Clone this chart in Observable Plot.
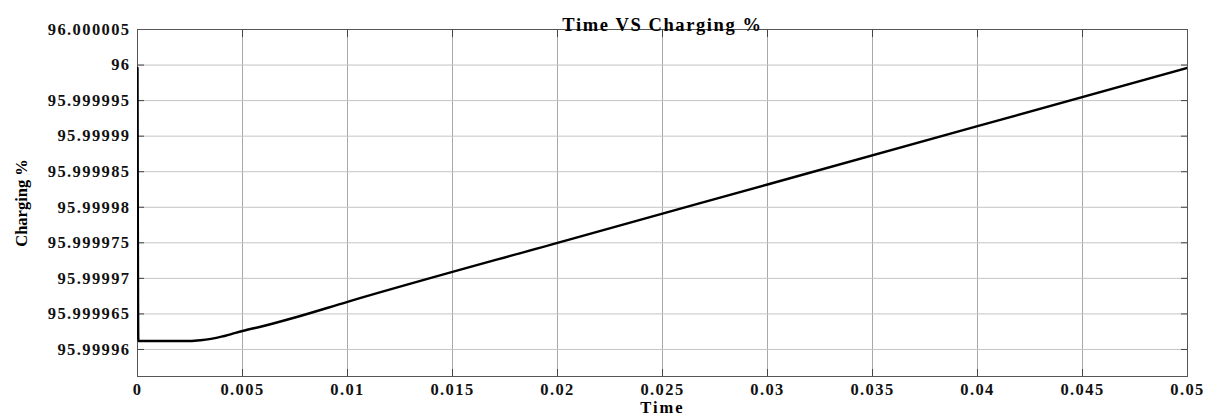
<!DOCTYPE html>
<html>
<head>
<meta charset="utf-8">
<script src="https://cdn.jsdelivr.net/npm/d3@7"></script>
<script src="https://cdn.jsdelivr.net/npm/@observablehq/plot@0.6"></script>
<style>
  html, body { margin: 0; padding: 0; background: #fff; }
</style>
</head>
<body>
<div id="chart"></div>
<script>
const titleText = "Time VS Charging %";
const xLabel = "Time";
const yLabel = "Charging %";

const times = [0, 0.00004, 0.0025, 0.003, 0.0035, 0.004, 0.0045, 0.005, 0.006, 0.0075, 0.01, 0.02, 0.03, 0.04, 0.05];
const charging = [95.9999996, 95.9999612, 95.9999612, 95.9999613, 95.9999615, 95.9999618, 95.9999622, 95.9999626, 95.9999633, 95.9999645, 95.9999667, 95.999975, 95.9999832, 95.9999914, 95.9999996];

const xTickLabels = ["0", "0.005", "0.01", "0.015", "0.02", "0.025", "0.03", "0.035", "0.04", "0.045", "0.05"];
const yTickLabels = ["95.99996", "95.999965", "95.99997", "95.999975", "95.99998", "95.999985", "95.99999", "95.999995", "96", "96.000005"];

const xTicks = xTickLabels.map(Number);
const yTicks = yTickLabels.map(Number);
const data = times.map((t, i) => ({t, v: charging[i]}));

const serif = "'Liberation Serif', 'Times New Roman', Times, serif";

const chart = Plot.plot({
  width: 1212,
  height: 418,
  marginLeft: 137,
  marginRight: 25,
  marginTop: 29,
  marginBottom: 42,
  style: {fontFamily: serif, fontSize: "16px", fontWeight: "bold", color: "#111", background: "#fff"},
  x: {domain: [0, 0.05]},
  y: {domain: [95.9999562, 96.000005]},
  marks: [
    Plot.gridX(xTicks, {stroke: "#a8a8a8", strokeOpacity: 1}),
    Plot.gridY(yTicks, {stroke: "#c4c4c4", strokeOpacity: 1}),
    Plot.axisX(xTicks, {anchor: "bottom", tickSize: 0, tickPadding: 7, tickFormat: (d, i) => xTickLabels[i], label: null, fill: "#111"}),
    Plot.axisY(yTicks, {anchor: "left", tickSize: 0, tickPadding: 7, tickFormat: (d, i) => yTickLabels[i], label: null, fill: "#111"}),
    Plot.axisX(xTicks, {anchor: "bottom", tickSize: -7, text: null, label: null, stroke: "#444"}),
    Plot.axisX(xTicks, {anchor: "top", tickSize: -7, text: null, label: null, stroke: "#444"}),
    Plot.axisY(yTicks, {anchor: "left", tickSize: -7, text: null, label: null, stroke: "#444"}),
    Plot.axisY(yTicks, {anchor: "right", tickSize: -7, text: null, label: null, stroke: "#444"}),
    Plot.frame({stroke: "#555", strokeWidth: 1}),
    Plot.line(data, {x: "t", y: "v", stroke: "#000", strokeWidth: 2.4, curve: "monotone-x", clip: true}),
    Plot.text([titleText], {frameAnchor: "top", dy: -12, textAnchor: "middle", fontSize: 18, fontWeight: "bold", fill: "#000"}),
    Plot.text([xLabel], {frameAnchor: "bottom", dy: 36, textAnchor: "middle", fontSize: 17, fontWeight: "bold", fill: "#000"}),
    Plot.text([yLabel], {frameAnchor: "left", dx: -116, textAnchor: "middle", rotate: -90, fontSize: 16, fontWeight: "bold", fill: "#000"})
  ]
});

// font styling (Times-like, horizontally widened as in the reference)
d3.select(chart).selectAll("text").each(function () {
  const s = this.textContent;
  const el = d3.select(this);
  el.style("font-family", serif).style("font-weight", "bold");
  if (s === titleText) {
    el.style("font-size", "18.5px").style("letter-spacing", "1.6px");
  } else if (s === xLabel) {
    el.style("font-size", "16.5px").style("letter-spacing", "2px");
  } else if (s === yLabel) {
    el.style("font-size", "16.5px").style("letter-spacing", "0px");
  } else {
    el.style("font-size", "16.5px").style("letter-spacing", "1.4px");
  }
});

document.getElementById("chart").appendChild(chart);
</script>
</body>
</html>
